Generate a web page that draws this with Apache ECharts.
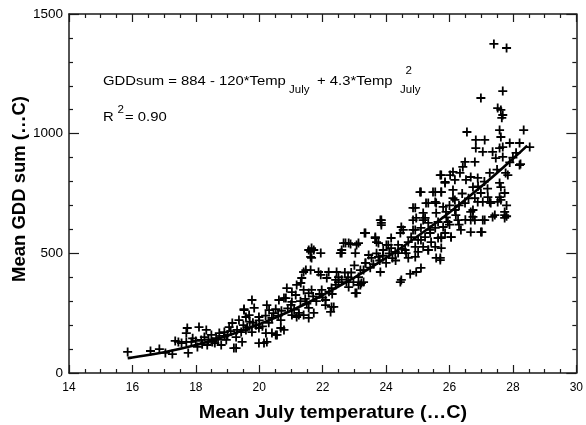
<!DOCTYPE html>
<html>
<head>
<meta charset="utf-8">
<script src="https://cdn.jsdelivr.net/npm/echarts@6/dist/echarts.min.js"></script>
<style>html,body{margin:0;padding:0;background:#fff}#c{width:586px;height:425px}</style>
</head>
<body>
<div id="c"></div>
<script>
// ---- data ----
const xTicks = [14, 16, 18, 20, 22, 24, 26, 28, 30];
const yTicks = [0, 500, 1000, 1500];
// observed stations: [mean July temperature, mean GDD sum]
const obsCool = [
[15.85,88],[16.57,92],[16.85,100],[17.04,84],[17.26,79],[17.45,130],[17.7,167],[17.73,188],[17.76,84],[18.1,192],
[18.33,180],[17.55,125],[17.7,130],[17.86,130],[18.0,134],[18.05,109],[18.17,138],[18.27,150],[18.36,117],[18.49,159],
[18.52,130],[18.64,146],[18.74,167],[18.8,117],[18.9,171],[18.96,138],[19.05,192],[19.15,209],[19.2,104],[19.27,150],
[19.36,221],[19.43,171],[19.46,130],[19.52,263],[19.58,234],[19.62,192],[17.35,134],[19.27,104],
[19.3,180],[19.0,160],[18.7,140],[18.9,155],[19.1,175],[19.5,200],[19.8,210],[18.4,140],[18.6,125],[18.2,120],[17.9,145]
];
const obsMild = [
[19.77,305],[19.52,267],[19.84,272],[19.68,242],[19.99,234],[20.24,284],[20.31,263],[20.52,267],[20.62,305],[20.78,313],
[20.87,355],[21.03,338],[21.15,326],[21.18,368],[21.31,376],[21.34,397],[21.4,347],[21.47,430],[21.62,430],[21.62,506],
[21.72,514],[21.65,481],[21.94,501],[21.56,334],[21.65,347],[21.87,422],[21.94,410],[21.97,347],[22.09,305],[22.13,397],
[22.28,355],[22.35,276],[22.44,422],[22.5,401],[22.41,368],[22.6,501],[22.72,543],[22.88,539],[23.07,535],[23.03,501],
[23.32,585],[22.75,380],[22.82,359],[22.97,380],[23.07,334],[23.13,401],[23.29,430],[23.35,460],[23.22,376],
[20.4,230],[20.68,221],[20.78,180],[21.03,242],[21.18,234],[21.4,242],[21.56,230],[21.72,251],[20.4,167],[20.56,159],
[20.68,188],[19.99,188],[20.21,167],[19.77,171],[19.58,180],[19.99,125],[20.15,125],[20.24,130],[20.52,159],[20.84,313],
[21.03,297],[21.25,242],[21.56,514],[21.62,485],[21.65,522],[21.4,422],[22.19,422],[22.28,276],[22.25,255],[22.41,389],
[22.5,380],[22.66,543],[22.56,501],[21.56,272],[22.09,284],[21.25,251],[23.13,368],[23.03,334],
[19.7,215],[19.9,200],[20.0,220],[20.1,195],[20.2,240],[20.3,210],[20.45,250],[20.6,240],[20.7,260],[20.9,270],
[21.0,285],[21.1,265],[21.3,300],[21.45,310],[21.5,290],[21.7,320],[21.8,300],[21.9,330],[22.0,315],[22.2,340],[22.3,330]
];
const obsWarm = [
[23.35,585],[23.85,639],[23.85,618],[23.66,564],[23.7,547],[23.91,514],[24.07,535],[24.16,522],[24.29,506],[24.38,535],
[24.45,585],[24.54,598],[24.48,610],[24.85,690],[24.95,648],[25.07,756],[25.17,669],[25.23,648],[25.26,710],[25.33,627],
[25.39,585],[25.48,756],[25.55,715],[25.58,669],[25.64,631],[25.71,827],[25.74,756],[25.8,694],[25.86,798],[25.95,631],
[26.02,827],[26.11,765],[26.17,723],[25.86,585],[25.74,564],[26.05,568],[25.58,481],[25.1,439],[24.95,422],[24.76,414],
[24.48,389],[24.45,380],[23.82,422],[23.29,380],[23.19,368],
[24.16,564],[24.7,547],[24.79,568],[24.92,527],[25.1,556],[25.23,568],[25.33,514],[25.42,547],[25.64,564],[25.01,506],
[24.63,501],[24.6,514],[24.38,501],[24.01,535],[23.76,485],[23.54,481],[23.45,493],[23.35,460],[23.19,430],[24.92,485],
[24.7,481],[25.1,606],[24.85,598],[25.39,598],[25.55,606],
[23.5,440],[23.6,455],[23.8,470],[23.9,490],[24.0,460],[24.2,480],[24.3,470],[24.5,520],[24.1,500],[23.7,500],
[22.9,420],[23.0,450],[22.8,400],[22.6,390],[22.7,420]
];
const obsHot = [
[27.4,1375],[27.8,1358],[27.68,1178],[26.99,1149],[27.52,1107],[27.62,1099],[27.68,1078],[27.65,1066],[26.55,1007],[27.58,1015],
[28.34,1015],[27.62,986],[26.83,974],[27.11,974],[26.83,940],[27.05,924],[27.36,924],[27.58,940],[27.68,944],[27.9,961],
[28.21,961],[28.53,944],[28.24,873],[27.68,903],[27.46,898],[26.49,882],[26.8,882],[26.42,861],[26.33,836],[26.11,840],
[25.74,827],[25.86,794],[26.17,807],[26.52,807],[26.67,819],[26.74,777],[26.89,815],[27.27,836],[27.58,794],[27.62,777],
[27.84,827],[27.74,752],[27.58,735],[27.62,723],[27.74,660],[27.43,660],[27.3,710],[27.21,735],[26.99,752],[26.89,715],
[27.05,715],[26.8,731],[26.67,673],[26.74,652],[26.8,639],[27.05,639],[27.36,652],[27.02,589],[26.67,589],[26.36,598],
[26.49,710],[26.17,681],[26.11,731],[25.89,673],[25.74,756],[25.55,756],[25.58,710],[25.33,710],[25.1,756],[25.17,639],
[24.92,690],[24.85,639],[24.92,598],[23.82,639],[23.85,627],[23.66,568],[23.76,543],[23.13,543],[22.6,514],[22.82,543],
[25.01,556],[25.17,527],[25.33,514],[25.55,527],[25.71,472],
[28.21,869],[27.77,836],[26.99,589],[27.74,673],[27.74,648],[26.05,568],[25.74,568],[25.71,481],[25.74,522],[26.27,639],
[26.67,639],[26.74,681],[27.11,639],[27.52,715],[27.27,715],
[25.9,650],[26.0,700],[26.2,660],[26.3,700],[26.4,750],[26.6,730],[26.0,620],[25.8,610],[26.3,620],[26.5,640],
[26.9,780],[27.1,800],[27.2,770],[27.5,850],[27.9,880],[28.0,900],[28.1,920],[27.8,655],[27.8,700]
];
// fitted curve as drawn
const fitTemp = [15.85, 16, 17, 18, 19, 20, 21, 22, 23, 24, 25, 26, 27, 28, 28.45];
const fitGdd  = [62, 65, 87, 117, 156, 204, 260, 325, 399, 481, 572, 671, 779, 895, 950];

const eqMain1 = 'GDDsum = 884 - 120*Temp';
const eqMain2 = '+ 4.3*Temp';
const eqSub = 'July';
const eqSup = '2';
const r2Label = 'R';
const r2Value = '= 0.90';
const xTitle = 'Mean July temperature (…C)';
const yTitle = 'Mean GDD sum (…C)';

// ---- chart ----
const FONT = "'Liberation Sans', Arial, Helvetica, sans-serif";
const chart = echarts.init(document.getElementById('c'), null, {renderer: 'canvas'});
const plus = 'path://M0,3.6H3.6V0H5.4V3.6H9V5.4H5.4V9H3.6V5.4H0Z';
const allObs = obsCool.concat(obsMild, obsWarm, obsHot);
const axisCommon = {
  type: 'value',
  axisLine: {show: true, onZero: false, lineStyle: {color: '#1a1a1a', width: 1.5}},
  axisTick: {show: true, inside: true, length: 8, lineStyle: {color: '#1a1a1a', width: 1.2}},
  minorTick: {show: true, length: 4, lineStyle: {color: '#1a1a1a', width: 1.2}},
  splitLine: {show: false}
};
function txt(x, y, text, size, opts) {
  return Object.assign({
    type: 'text', x: x, y: y, silent: true,
    style: {text: text, font: (opts && opts.bold ? 'bold ' : '') + size + 'px ' + FONT,
            fill: '#000', align: 'left', verticalAlign: 'middle'}
  }, opts && opts.el ? opts.el : {});
}
const option = {
  animation: false,
  backgroundColor: '#fff',
  grid: {left: 69, right: 7, top: 14, bottom: 52, containLabel: false},
  xAxis: [
    Object.assign({}, axisCommon, {min: 14, max: 30, interval: 2, position: 'bottom',
      minorTick: Object.assign({}, axisCommon.minorTick, {splitNumber: 4}),
      axisLabel: {show: true, fontSize: 12, fontFamily: FONT, color: '#000', margin: 9,
        formatter: v => (xTicks.indexOf(v) >= 0 ? String(v) : '')}}),
    Object.assign({}, axisCommon, {min: 14, max: 30, interval: 2, position: 'top',
      minorTick: Object.assign({}, axisCommon.minorTick, {splitNumber: 4}),
      axisLabel: {show: false}})
  ],
  yAxis: [
    Object.assign({}, axisCommon, {min: 0, max: 1500, interval: 500, position: 'left',
      minorTick: Object.assign({}, axisCommon.minorTick, {splitNumber: 5}),
      axisTick: Object.assign({}, axisCommon.axisTick, {length: 10}),
      axisLabel: {show: true, fontSize: 13.5, fontFamily: FONT, color: '#000', margin: 6,
        formatter: v => (yTicks.indexOf(v) >= 0 ? String(v) : '')}}),
    Object.assign({}, axisCommon, {min: 0, max: 1500, interval: 500, position: 'right',
      minorTick: Object.assign({}, axisCommon.minorTick, {splitNumber: 5}),
      axisTick: Object.assign({}, axisCommon.axisTick, {length: 10}),
      axisLabel: {show: false}})
  ],
  series: [
    {type: 'scatter', xAxisIndex: 0, yAxisIndex: 0, data: allObs,
     symbol: plus, symbolSize: 9, itemStyle: {color: '#000', opacity: 1}, z: 2},
    {type: 'line', xAxisIndex: 0, yAxisIndex: 0,
     data: fitTemp.map((t, i) => [t, fitGdd[i]]), smooth: true, showSymbol: false,
     symbol: 'none', lineStyle: {color: '#000', width: 2.6}, z: 3}
  ],
  graphic: [
    txt(103, 81.5, eqMain1, 13.5, {el: {scaleX: 1.1}}),
    txt(289, 90.5, eqSub, 10, {el: {scaleX: 1.15}}),
    txt(317, 81.5, eqMain2, 13.5, {el: {scaleX: 1.1}}),
    txt(405.5, 71, eqSup, 10.5, {el: {scaleX: 1.1}}),
    txt(400, 90.5, eqSub, 10, {el: {scaleX: 1.15}}),
    txt(103, 117.5, r2Label, 13.5, {el: {scaleX: 1.1}}),
    txt(117.5, 110, eqSup, 10.5, {el: {scaleX: 1.1}}),
    txt(125, 117.5, r2Value, 13.5, {el: {scaleX: 1.1}}),
    {type: 'text', x: 333, y: 412.5, scaleX: 1.07, silent: true,
     style: {text: xTitle, font: 'bold 18.5px ' + FONT, fill: '#000', align: 'center', verticalAlign: 'middle'}},
    {type: 'text', x: 20, y: 189, rotation: Math.PI / 2, silent: true,
     style: {text: yTitle, font: 'bold 18.5px ' + FONT, fill: '#000', align: 'center', verticalAlign: 'middle'}}
  ]
};
chart.setOption(option);
</script>
</body>
</html>
